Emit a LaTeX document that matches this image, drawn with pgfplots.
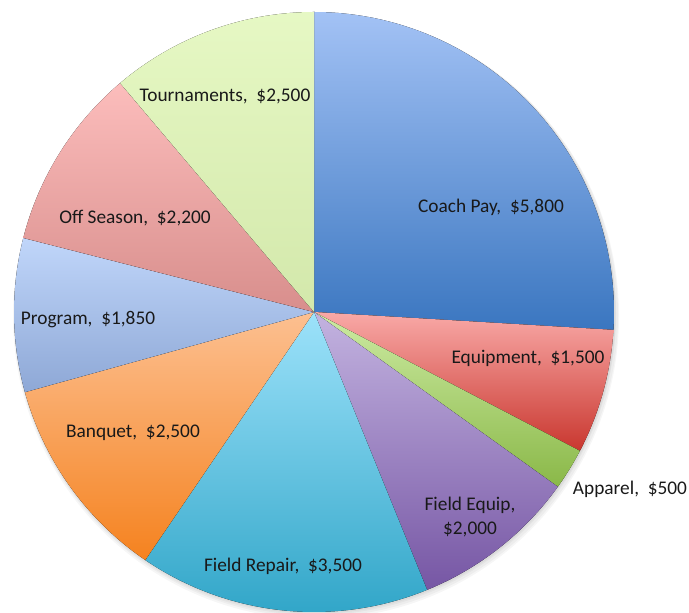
\documentclass[border=0pt]{standalone}
\usepackage{fontspec}
\setmainfont{Carlito}
\usepackage{pgfplots}
\usepackage{pgfplotstable}
\pgfplotsset{compat=1.18}

\pgfplotstableread{
value
5800
1500
500
2000
3500
2500
1850
2200
2500
}\piedata

\definecolor{cpT}{HTML}{A3C2F5}\definecolor{cpB}{HTML}{3A76C0}
\definecolor{eqT}{HTML}{F9A9A7}\definecolor{eqB}{HTML}{C9372F}
\definecolor{apT}{HTML}{CDEBA3}\definecolor{apB}{HTML}{8AB848}
\definecolor{feT}{HTML}{C3B3E0}\definecolor{feB}{HTML}{7656A4}
\definecolor{frT}{HTML}{9DE2FA}\definecolor{frB}{HTML}{2CA3C6}
\definecolor{bqT}{HTML}{FCC091}\definecolor{bqB}{HTML}{F5821F}
\definecolor{prT}{HTML}{C0D6FA}\definecolor{prB}{HTML}{8EA8D6}
\definecolor{osT}{HTML}{FCBDBC}\definecolor{osB}{HTML}{D88E8C}
\definecolor{toT}{HTML}{E6F8C4}\definecolor{toB}{HTML}{D3E8AB}

% cumulative sums (in thousands) and angles
\gdef\cum{0}
\pgfplotsforeachungrouped \i in {0,...,8}{%
  \pgfplotstablegetelem{\i}{value}\of\piedata
  \pgfmathsetmacro\newcum{\cum+\pgfplotsretval/1000}%
  \expandafter\xdef\csname p\i\endcsname{\cum}%
  \expandafter\xdef\csname c\i\endcsname{\newcum}%
  \xdef\cum{\newcum}%
}
\xdef\tot{\cum}
\pgfplotsforeachungrouped \i in {0,...,8}{%
  \pgfmathsetmacro\tmpa{90-360*(\csname p\i\endcsname/\tot)}%
  \pgfmathsetmacro\tmpb{90-360*(\csname c\i\endcsname/\tot)}%
  \expandafter\xdef\csname sa\i\endcsname{\tmpa}%
  \expandafter\xdef\csname ea\i\endcsname{\tmpb}%
}

\newcommand\slice[3]{%
  \fill[top color=#2, bottom color=#3, shading=axis, draw=none]
    (axis cs:314,301) -- ++(\csname sa#1\endcsname:300bp)
    arc[start angle=\csname sa#1\endcsname, end angle=\csname ea#1\endcsname, radius=300bp] -- cycle;
}

\begin{document}
\begin{tikzpicture}
\begin{axis}[
  scale only axis, width=689bp, height=613bp,
  xmin=0, xmax=689, ymin=0, ymax=613,
  hide axis, clip=false,
]
% soft shadow
\fill[black, opacity=0.035] (axis cs:316,297) circle[radius=303bp];
\fill[black, opacity=0.035] (axis cs:316,298) circle[radius=302bp];
\fill[black, opacity=0.04] (axis cs:315,299) circle[radius=301bp];
\fill[black, opacity=0.04] (axis cs:315,300) circle[radius=300.5bp];

\slice{0}{cpT}{cpB}
\slice{1}{eqT}{eqB}
\slice{2}{apT}{apB}
\slice{3}{feT}{feB}
\slice{4}{frT}{frB}
\slice{5}{bqT}{bqB}
\slice{6}{prT}{prB}
\slice{7}{osT}{osB}
\slice{8}{toT}{toB}

\begin{scope}[every node/.style={font=\fontsize{19.4}{23.5}\selectfont, text=black!90, inner sep=0pt}]
\node at (axis cs:491,406) {Coach Pay,\ \ \$5,800};
\node at (axis cs:528,255) {Equipment,\ \ \$1,500};
\node at (axis cs:630,124) {Apparel,\ \ \$500};
\node[align=center] at (axis cs:470,96) {Field Equip,\\\$2,000};
\node at (axis cs:283,47) {Field Repair,\ \ \$3,500};
\node at (axis cs:133,180) {Banquet,\ \ \$2,500};
\node at (axis cs:88,293) {Program,\ \ \$1,850};
\node at (axis cs:135,395) {Off Season,\ \ \$2,200};
\node at (axis cs:225,517) {Tournaments,\ \ \$2,500};
\end{scope}
\end{axis}
\pgfresetboundingbox
\useasboundingbox (current axis.south west) rectangle (current axis.north east);
\end{tikzpicture}
\end{document}
